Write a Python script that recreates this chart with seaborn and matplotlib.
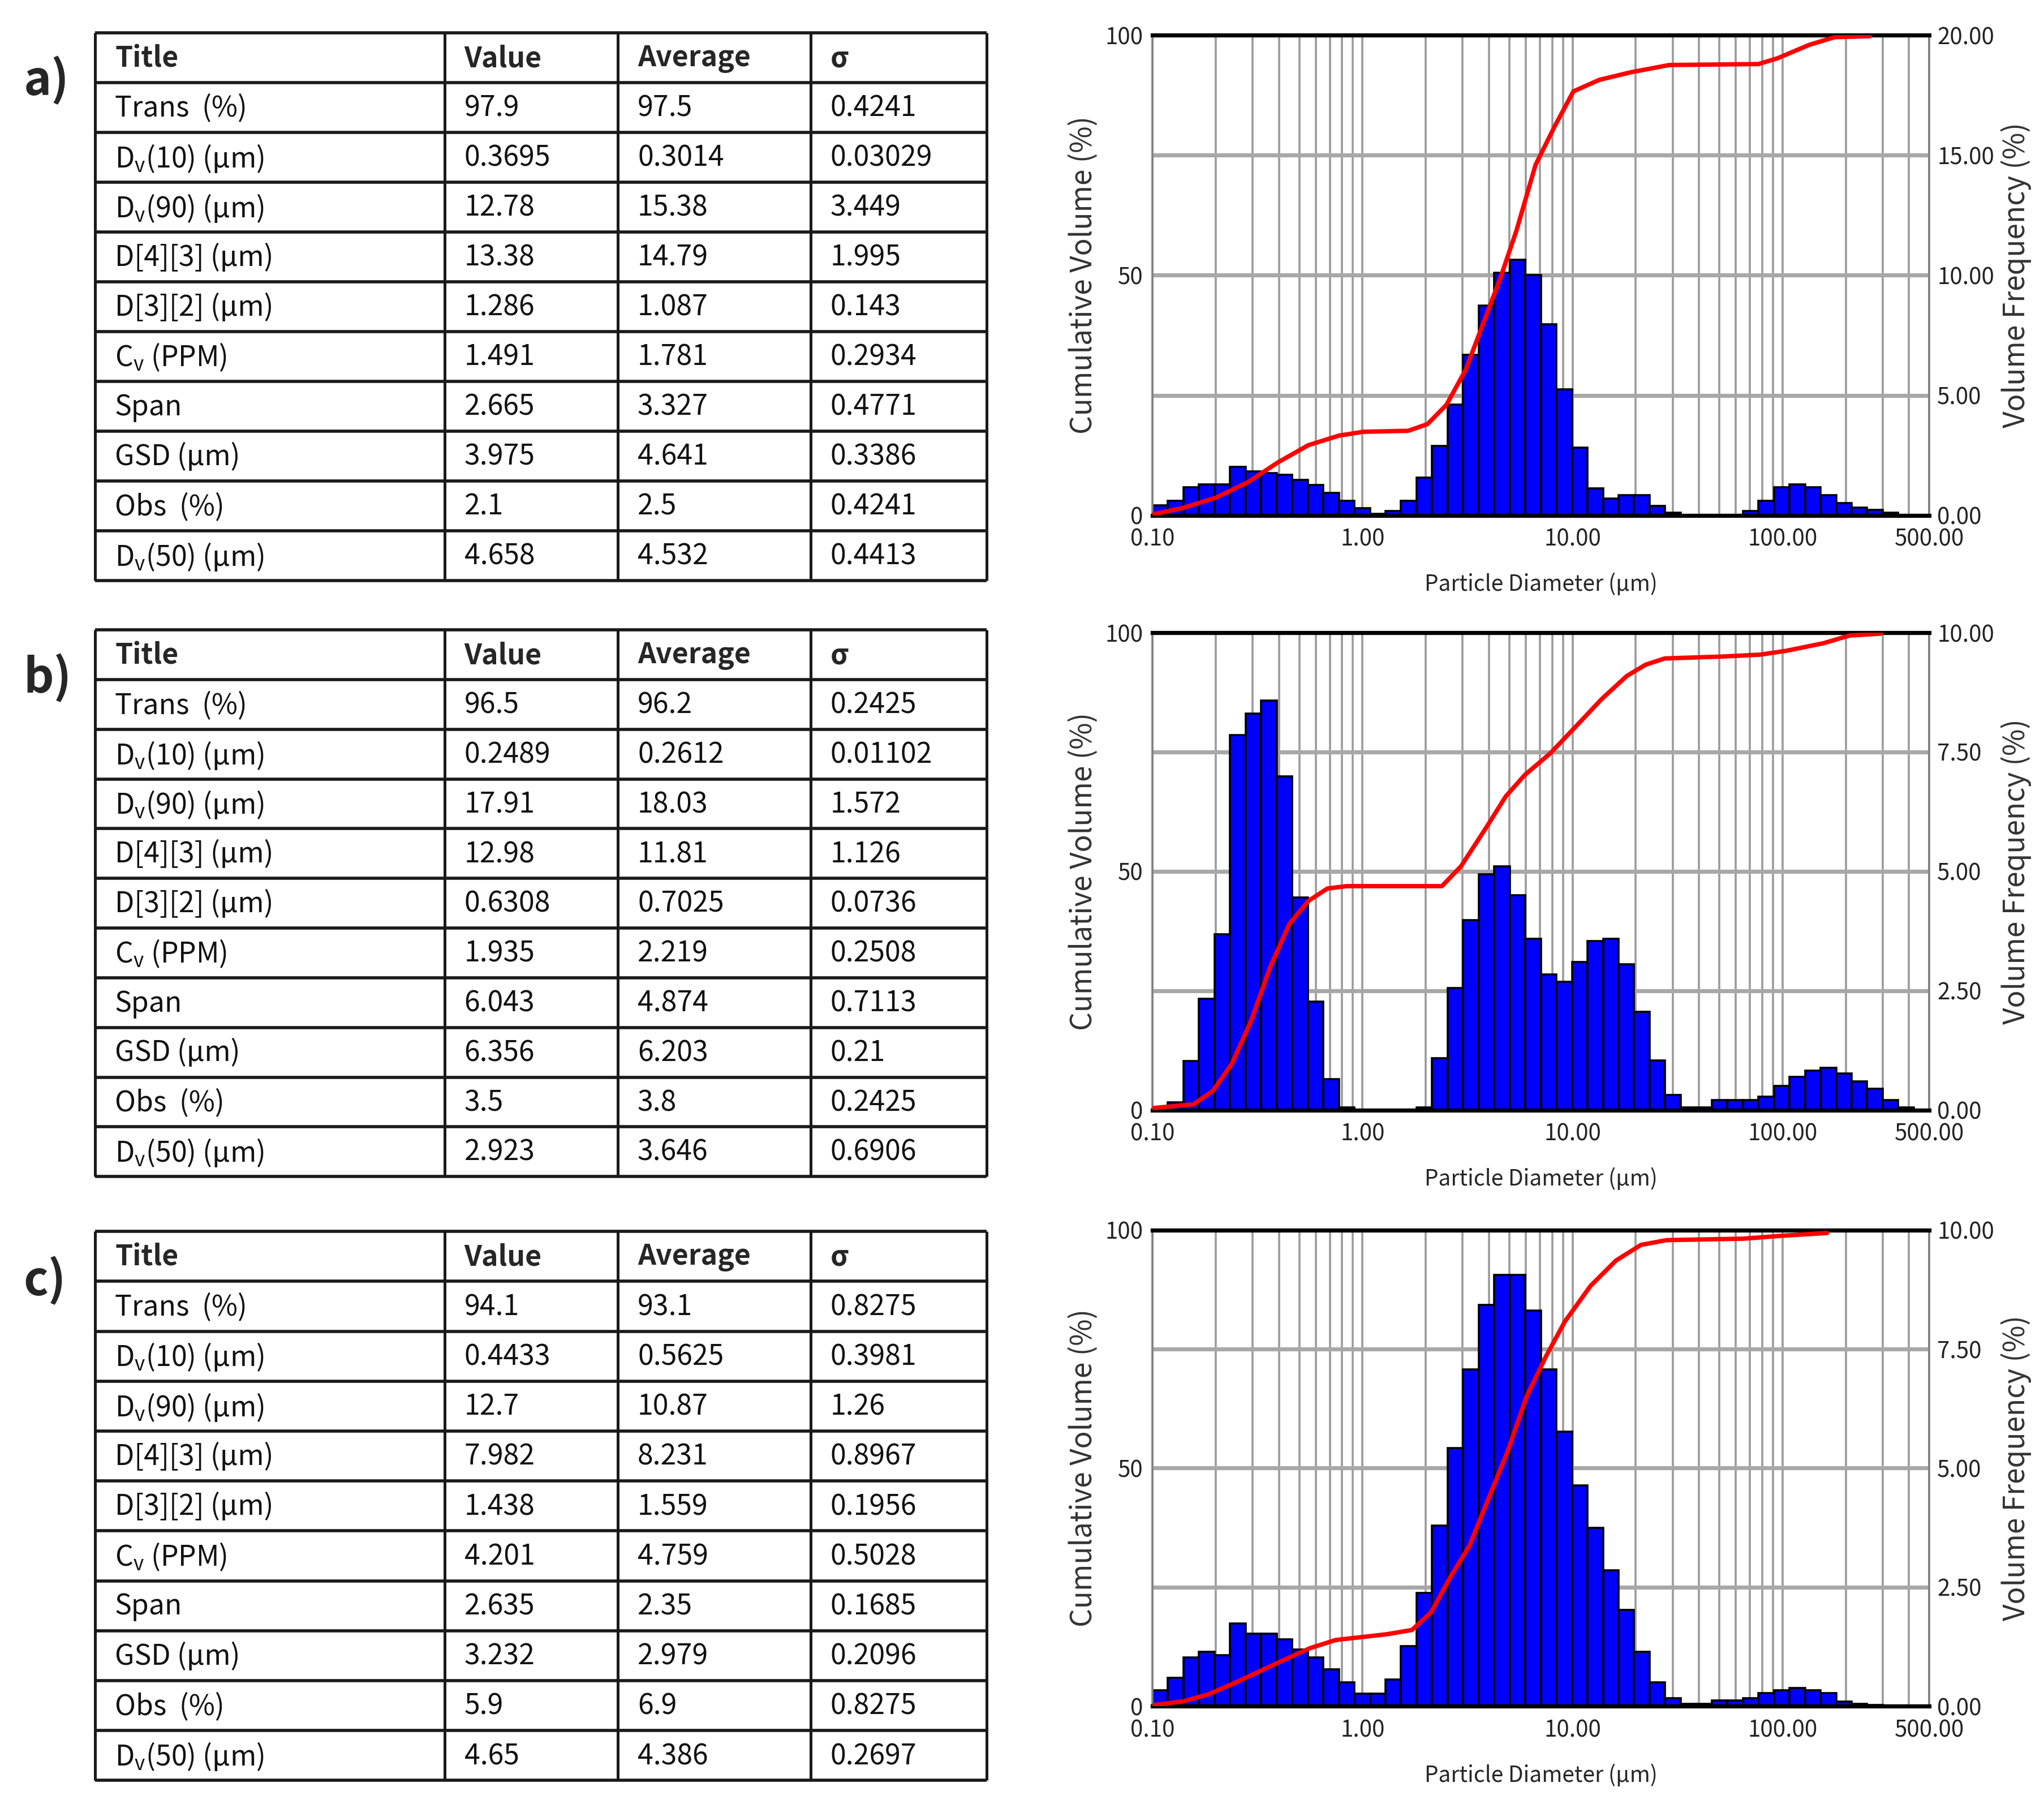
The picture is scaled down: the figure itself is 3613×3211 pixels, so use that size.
import numpy as np
import seaborn as sns
import matplotlib.pyplot as plt
from matplotlib.ticker import FixedLocator, LogLocator, NullFormatter

sns.set_style("white")
plt.rcParams["font.family"] = ["Noto Sans CJK KR", "DejaVu Sans"]
plt.rcParams["mathtext.default"] = "regular"

# ---- table data ----
row_titles = ["Trans  (%)", "D$_v$(10) (µm)", "D$_v$(90) (µm)", "D[4][3] (µm)", "D[3][2] (µm)",
              "C$_v$ (PPM)", "Span", "GSD (µm)", "Obs  (%)", "D$_v$(50) (µm)"]
col_heads = ["Title", "Value", "Average", "σ"]

a_value = ["97.9", "0.3695", "12.78", "13.38", "1.286", "1.491", "2.665", "3.975", "2.1", "4.658"]
a_average = ["97.5", "0.3014", "15.38", "14.79", "1.087", "1.781", "3.327", "4.641", "2.5", "4.532"]
a_sigma = ["0.4241", "0.03029", "3.449", "1.995", "0.143", "0.2934", "0.4771", "0.3386", "0.4241", "0.4413"]

b_value = ["96.5", "0.2489", "17.91", "12.98", "0.6308", "1.935", "6.043", "6.356", "3.5", "2.923"]
b_average = ["96.2", "0.2612", "18.03", "11.81", "0.7025", "2.219", "4.874", "6.203", "3.8", "3.646"]
b_sigma = ["0.2425", "0.01102", "1.572", "1.126", "0.0736", "0.2508", "0.7113", "0.21", "0.2425", "0.6906"]

c_value = ["94.1", "0.4433", "12.7", "7.982", "1.438", "4.201", "2.635", "3.232", "5.9", "4.65"]
c_average = ["93.1", "0.5625", "10.87", "8.231", "1.559", "4.759", "2.35", "2.979", "6.9", "4.386"]
c_sigma = ["0.8275", "0.3981", "1.26", "0.8967", "0.1956", "0.5028", "0.1685", "0.2096", "0.8275", "0.2697"]

# ---- size distribution data (50 log-spaced bins, 0.1 - 500 um) ----
d_min, d_max, n_bins = 0.1, 500.0, 50

a_freq = [0.42, 0.61, 1.16, 1.29, 1.29, 2.03, 1.84, 1.77, 1.68, 1.48,
          1.26, 0.94, 0.61, 0.29, 0.06, 0.19, 0.61, 1.58, 2.90, 4.61,
          6.68, 8.74, 10.10, 10.65, 10.00, 7.97, 5.26, 2.81, 1.13, 0.71,
          0.84, 0.84, 0.39, 0.10, 0.0, 0.0, 0.0, 0.0, 0.19, 0.61,
          1.16, 1.29, 1.16, 0.84, 0.52, 0.32, 0.23, 0.10, 0.0, 0.0]
a_cum_d = [0.1, 0.139, 0.201, 0.285, 0.395, 0.552, 0.773, 1.01, 1.65, 2.04, 2.51, 3.10, 3.82,
           4.55, 5.41, 6.67, 8.22, 10.1, 13.4, 19.0, 28.9, 76.7, 94.6, 134, 177, 260]
a_cum_v = [0.2, 1.5, 3.7, 6.9, 11.0, 14.6, 16.6, 17.4, 17.6, 19.0, 23.0, 30.3, 40.8,
           49.6, 59.3, 73.0, 81.0, 88.3, 90.7, 92.3, 93.8, 94.0, 95.2, 98.0, 99.6, 99.8]

b_freq = [0.0, 0.16, 1.03, 2.33, 3.68, 7.86, 8.31, 8.58, 6.99, 4.45,
          2.27, 0.65, 0.06, 0.0, 0.0, 0.0, 0.0, 0.06, 1.09, 2.55,
          3.98, 4.94, 5.10, 4.50, 3.59, 2.84, 2.69, 3.10, 3.54, 3.59,
          3.05, 2.06, 1.04, 0.32, 0.06, 0.06, 0.21, 0.21, 0.21, 0.28,
          0.50, 0.70, 0.83, 0.88, 0.76, 0.60, 0.44, 0.21, 0.06, 0.0]
b_cum_d = [0.1, 0.157, 0.194, 0.239, 0.295, 0.364, 0.449, 0.553, 0.681, 0.84, 2.39, 2.95, 3.90,
           4.81, 5.93, 7.83, 10.4, 13.7, 18.1, 22.3, 27.5, 51.5, 78.3, 104, 157, 208, 295]
b_cum_v = [0.4, 1.2, 4.0, 9.7, 18.7, 30.0, 39.0, 43.8, 46.4, 46.9, 46.9, 51.1, 59.3,
           65.7, 70.2, 74.7, 80.4, 86.0, 90.9, 93.3, 94.6, 95.0, 95.4, 96.2, 97.8, 99.4, 99.8]

c_freq = [0.33, 0.60, 1.02, 1.14, 1.07, 1.74, 1.52, 1.52, 1.40, 1.19,
          1.02, 0.78, 0.50, 0.26, 0.26, 0.56, 1.26, 2.38, 3.79, 5.42,
          7.07, 8.43, 9.06, 9.06, 8.31, 7.07, 5.77, 4.64, 3.74, 2.86,
          2.02, 1.14, 0.50, 0.17, 0.05, 0.05, 0.12, 0.12, 0.17, 0.28,
          0.33, 0.38, 0.33, 0.28, 0.10, 0.05, 0.03, 0.0, 0.0, 0.0]
c_cum_d = [0.1, 0.140, 0.185, 0.244, 0.323, 0.427, 0.564, 0.746, 0.986, 1.30, 1.72, 2.12, 2.62,
           3.23, 3.98, 4.91, 6.05, 7.46, 9.20, 12.2, 16.1, 21.2, 28.1, 64.9, 98.6, 163]
c_cum_v = [0.2, 1.0, 2.5, 4.8, 7.3, 9.8, 12.2, 13.9, 14.5, 15.1, 16.0, 19.7, 27.1,
           33.7, 43.6, 53.5, 65.1, 73.4, 80.8, 88.3, 93.6, 96.9, 97.9, 98.2, 98.8, 99.4]

x_ticks = [0.1, 1, 10, 100, 500]
x_ticklabels = ["0.10", "1.00", "10.00", "100.00", "500.00"]

edges = np.geomspace(d_min, d_max, n_bins + 1)
centers = np.sqrt(edges[:-1] * edges[1:])
log_edges = [float(e) for e in np.log10(edges)]

fig = plt.figure(figsize=(18.065, 16.055), dpi=200)
fig.patch.set_facecolor("white")

col_x = [0.0, 0.3918, 0.5863, 0.8026, 1.0]


def draw_table(rect, values, averages, sigmas):
    ax = fig.add_axes(rect)
    n = len(row_titles) + 1
    ax.set_xlim(0, 1)
    ax.set_ylim(n, 0)
    ax.axis("off")
    ax.hlines(range(n + 1), 0, 1, color="#1a1a1a", lw=2.0, clip_on=False)
    ax.vlines(col_x, 0, n, color="#1a1a1a", lw=1.8, clip_on=False)
    for j, h in enumerate(col_heads):
        ax.text(col_x[j] + 0.022, 0.52, h, fontsize=18, fontweight="bold", va="center", ha="left")
    for i in range(len(row_titles)):
        cells = [row_titles[i], values[i], averages[i], sigmas[i]]
        for j, t in enumerate(cells):
            ax.text(col_x[j] + 0.022, i + 1.52, t, fontsize=18, va="center", ha="left", color="#111111")
    return ax


def draw_chart(rect, freq, cum_d, cum_v, fmax, fstep):
    ax = fig.add_axes(rect)
    sns.histplot(x=centers, weights=np.asarray(freq), bins=log_edges, log_scale=True, stat="count",
                 color="#0000ff", edgecolor="black", linewidth=1.3, alpha=1, ax=ax)
    ax.set_xlim(d_min, d_max)
    ax.set_ylim(0, fmax)
    ax.set_axisbelow(True)
    ax.xaxis.set_major_locator(FixedLocator(x_ticks))
    ax.set_xticklabels(x_ticklabels)
    ax.xaxis.set_minor_locator(LogLocator(base=10, subs=np.arange(1, 10), numticks=30))
    ax.xaxis.set_minor_formatter(NullFormatter())
    yt = np.arange(0, fmax + fstep / 2, fstep)
    ax.set_yticks(yt)
    ax.set_yticklabels([f"{v:.2f}" for v in yt])
    ax.grid(which="both", axis="x", color="#9a9a9a", lw=1.3)
    ax.grid(which="major", axis="y", color="#a8a8a8", lw=2.6)
    ax.set_xlabel("Particle Diameter (µm)", fontsize=14, labelpad=14)
    for s in ["top", "bottom"]:
        ax.spines[s].set_color("black")
        ax.spines[s].set_linewidth(2.6)
    for s in ["left", "right"]:
        ax.spines[s].set_color("#808080")
        ax.spines[s].set_linewidth(1.3)

    ax2 = ax.twinx()
    sns.lineplot(x=cum_d, y=cum_v, ax=ax2, color="#ff0000", linewidth=2.8)
    ax2.set_ylim(0, 100)
    ax2.set_yticks([0, 50, 100])
    ax2.yaxis.tick_left()
    ax2.yaxis.set_label_position("left")
    ax2.tick_params(length=0, labelsize=14.5, colors="#222222", pad=6)
    ax2.set_ylabel("Cumulative Volume (%)", fontsize=18.5, color="#333333", labelpad=4)
    for s in ax2.spines.values():
        s.set_visible(False)

    # twinx puts the first axes' ticks back on the left, so move them after it
    ax.yaxis.tick_right()
    ax.yaxis.set_label_position("right")
    ax.tick_params(which="both", length=0, labelsize=14.5, colors="#222222")
    ax.tick_params(axis="y", pad=5)
    ax.tick_params(axis="x", pad=8)
    ax.set_ylabel("Volume Frequency (%)", fontsize=18.5, color="#333333", labelpad=4)
    return ax


table_l, table_w = 0.0466, 0.4362
draw_table([table_l, 0.6805, table_w, 0.3015], a_value, a_average, a_sigma)
draw_table([table_l, 0.3525, table_w, 0.3008], b_value, b_average, b_sigma)
draw_table([table_l, 0.0201, table_w, 0.3022], c_value, c_average, c_sigma)

chart_l, chart_w = 0.5638, 0.3801
draw_chart([chart_l, 0.7164, chart_w, 0.2642], a_freq, a_cum_d, a_cum_v, 20, 5)
draw_chart([chart_l, 0.3891, chart_w, 0.2627], b_freq, b_cum_d, b_cum_v, 10, 2.5)
draw_chart([chart_l, 0.0610, chart_w, 0.2620], c_freq, c_cum_d, c_cum_v, 10, 2.5)

for lab, y in [("a)", 0.9555), ("b)", 0.6267), ("c)", 0.2950)]:
    fig.text(0.0115, y, lab, fontsize=30, fontweight="bold", va="center", ha="left")

fig.savefig("out.png", dpi=200, facecolor="white")
